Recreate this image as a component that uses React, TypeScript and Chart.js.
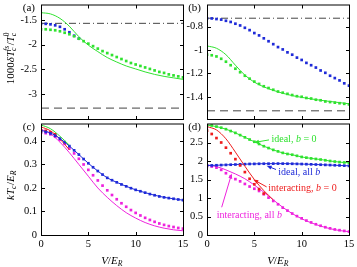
import React, { useEffect, useRef } from "react";
import { Chart, registerables } from "chart.js";
Chart.register(...registerables);

const W = 357;
const H = 267;
const FONT = '"Liberation Serif", "Times New Roman", serif';

const GREEN = "#2fe22f";
const BLUE = "#1e2ad8";
const RED = "#ee1c1c";
const MAGENTA = "#ee22dd";
const REFC = "#444444";

// ---------- data ----------
const V_DOTS = [0, 0.5, 1, 1.5, 2, 2.5, 3, 3.5, 4, 4.5, 5, 5.5, 6, 6.5, 7, 7.5, 8, 8.5, 9, 9.5, 10, 10.5, 11, 11.5, 12, 12.5, 13, 13.5, 14, 14.5, 15];
const V_LINE = [0, 1, 2, 3, 4, 5, 6, 7, 8, 9, 10, 11, 12, 13, 14, 15];
const X_TICKS = [0, 5, 10, 15];

// (a)
const A_Y_TICKS = [-3, -2.5, -2, -1.5];
const A_GREEN_DOTS = [-1.69, -1.69, -1.7, -1.71, -1.73, -1.76, -1.79, -1.83, -1.88, -1.93, -1.98, -2.03, -2.08, -2.13, -2.17, -2.21, -2.25, -2.29, -2.33, -2.37, -2.4, -2.43, -2.46, -2.49, -2.52, -2.55, -2.57, -2.6, -2.62, -2.64, -2.66];
const A_BLUE_DOTS = [-1.58, -1.58, -1.59, -1.61, -1.64, -1.69, -1.75, -1.82, -1.88];
const A_GREEN_LINE = [-1.355, -1.38, -1.47, -1.63, -1.84, -2.01, -2.14, -2.26, -2.35, -2.43, -2.49, -2.55, -2.6, -2.64, -2.67, -2.7];
const A_DASHDOT = -1.57;
const A_DASHED = -3.28;

// (b)
const B_Y_TICKS = [-1.4, -1.2, -1, -0.8];
const B_BLUE_DOTS = [-0.73, -0.73, -0.735, -0.74, -0.75, -0.76, -0.775, -0.79, -0.81, -0.83, -0.855, -0.875, -0.9, -0.925, -0.95, -0.975, -0.995, -1.02, -1.04, -1.065, -1.085, -1.11, -1.13, -1.15, -1.175, -1.195, -1.22, -1.24, -1.26, -1.285, -1.305];
const B_GREEN_DOTS = [-1.04, -1.045, -1.055, -1.075, -1.1, -1.13, -1.16, -1.19, -1.22, -1.245, -1.27, -1.29, -1.31, -1.325, -1.34, -1.355, -1.365, -1.375, -1.385, -1.395, -1.4, -1.41, -1.415, -1.425, -1.43, -1.44, -1.445, -1.45, -1.455, -1.46, -1.465];
const B_GREEN_LINE = [-0.965, -0.985, -1.04, -1.13, -1.215, -1.275, -1.315, -1.345, -1.37, -1.39, -1.405, -1.418, -1.43, -1.44, -1.45, -1.46];
const B_DASHDOT = -0.728;
const B_DASHED = -1.52;

// (c)
const C_Y_TICKS = [0, 0.1, 0.2, 0.3, 0.4];
const C_BLUE_DOTS = [0.44, 0.438, 0.432, 0.422, 0.41, 0.395, 0.378, 0.36, 0.342, 0.323, 0.305, 0.288, 0.272, 0.257, 0.243, 0.233, 0.224, 0.215, 0.207, 0.199, 0.192, 0.186, 0.18, 0.174, 0.169, 0.164, 0.16, 0.157, 0.154, 0.151, 0.148];
const C_BLUE_LINE = [0.445, 0.434, 0.41, 0.378, 0.342, 0.305, 0.272, 0.243, 0.224, 0.207, 0.192, 0.18, 0.169, 0.16, 0.154, 0.148];
const C_GREEN_LINE = [0.468, 0.452, 0.42, 0.382];
const C_RED_LINE = [0.46, 0.443, 0.408, 0.362];
const C_RED_DOTS = [0.445, 0.443, 0.437, 0.428];
const C_MAGENTA_LINE = [0.45, 0.43, 0.395, 0.35, 0.3, 0.25, 0.2, 0.16, 0.125, 0.095, 0.072, 0.053, 0.039, 0.029, 0.022, 0.018];
const C_MAGENTA_DOTS = [0.435, 0.433, 0.428, 0.418, 0.405, 0.388, 0.368, 0.347, 0.324, 0.3, 0.277, 0.254, 0.232, 0.21, 0.19, 0.17, 0.152, 0.135, 0.12, 0.106, 0.094, 0.083, 0.073, 0.064, 0.056, 0.049, 0.043, 0.038, 0.034, 0.03, 0.027];

// (d)
const D_Y_TICKS = [0, 0.5, 1, 1.5, 2, 2.5];
const D_GREEN_DOTS = [2.97, 2.96, 2.93, 2.9, 2.86, 2.81, 2.76, 2.7, 2.64, 2.58, 2.52, 2.46, 2.4, 2.35, 2.3, 2.26, 2.22, 2.19, 2.17, 2.14, 2.11, 2.09, 2.07, 2.055, 2.04, 2.02, 2.0, 1.985, 1.97, 1.96, 1.95];
const D_GREEN_LINE = [2.97, 2.93, 2.86, 2.76, 2.64, 2.52, 2.4, 2.3, 2.22, 2.17, 2.11, 2.07, 2.04, 2.0, 1.97, 1.95];
const D_BLUE_DOTS = [1.88, 1.88, 1.885, 1.89, 1.895, 1.9, 1.905, 1.91, 1.915, 1.92, 1.922, 1.925, 1.927, 1.928, 1.929, 1.93, 1.929, 1.927, 1.925, 1.922, 1.918, 1.914, 1.91, 1.905, 1.9, 1.895, 1.89, 1.885, 1.88, 1.875, 1.87];
const D_BLUE_LINE = [1.88, 1.885, 1.895, 1.905, 1.915, 1.922, 1.927, 1.929, 1.929, 1.925, 1.918, 1.91, 1.9, 1.89, 1.88, 1.87];
const D_RED_LINE = [2.93, 2.84, 2.6, 2.24, 1.86, 1.5, 1.2, 0.95];
const D_RED_DOTS = [2.82, 2.73, 2.62, 2.5, 2.36, 2.21, 2.05, 1.88, 1.7, 1.52, 1.37, 1.24, 1.12];
const D_MAGENTA_LINE = [1.89, 1.85, 1.76, 1.65, 1.52, 1.35, 1.16, 0.95, 0.75, 0.58, 0.44, 0.33, 0.24, 0.17, 0.12, 0.09];
const D_MAGENTA_DOTS = [1.86, 1.85, 1.82, 1.76, 1.67, 1.58, 1.51, 1.45, 1.38, 1.31, 1.25, 1.19, 1.1, 1.01, 0.92, 0.83, 0.74, 0.66, 0.58, 0.51, 0.45, 0.39, 0.34, 0.29, 0.25, 0.21, 0.18, 0.15, 0.13, 0.11, 0.09];

// ---------- helpers ----------
type Seg = { t: string; it?: boolean; sub?: string; sup?: string; subIt?: boolean; supIt?: boolean };

const pts = (xs: number[], ys: number[]) => ys.map((y, i) => ({ x: xs[i], y }));
const lineDs = (xs: number[], ys: number[], color: string) => ({
  data: pts(xs, ys), showLine: true, borderColor: color, backgroundColor: color, borderWidth: 1,
  pointRadius: 0, cubicInterpolationMode: "monotone", fill: false,
});
const dotDs = (xs: number[], ys: number[], color: string) => ({
  data: pts(xs, ys), showLine: false, pointStyle: "rect", pointRadius: 1.9,
  pointBackgroundColor: color, pointBorderWidth: 0, borderColor: color, backgroundColor: color,
});
const refDs = (y: number, dash: number[]) => ({
  data: [{ x: 0, y }, { x: 15, y }], showLine: true, borderColor: REFC, borderWidth: 1,
  borderDash: dash, pointRadius: 0, fill: false,
});

function richWidth(ctx: CanvasRenderingContext2D, segs: Seg[], size: number) {
  let w = 0;
  for (const s of segs) {
    ctx.font = `${s.it ? "italic " : ""}${size}px ${FONT}`;
    w += ctx.measureText(s.t).width;
    if (s.sub || s.sup) {
      const ss = size * 0.7;
      ctx.font = `${s.subIt ? "italic " : ""}${ss}px ${FONT}`;
      const a = s.sub ? ctx.measureText(s.sub).width : 0;
      ctx.font = `${s.supIt ? "italic " : ""}${ss}px ${FONT}`;
      const b = s.sup ? ctx.measureText(s.sup).width : 0;
      w += Math.max(a, b) + 0.5;
    }
  }
  return w;
}

function drawRich(ctx: CanvasRenderingContext2D, segs: Seg[], x: number, cy: number, size: number, color: string, align: "center" | "left") {
  const w = richWidth(ctx, segs, size);
  let cx = align === "center" ? x - w / 2 : x;
  const base = cy + size * 0.32;
  ctx.fillStyle = color;
  ctx.textAlign = "left";
  ctx.textBaseline = "alphabetic";
  for (const s of segs) {
    ctx.font = `${s.it ? "italic " : ""}${size}px ${FONT}`;
    ctx.fillText(s.t, cx, base);
    cx += ctx.measureText(s.t).width;
    if (s.sub || s.sup) {
      const ss = size * 0.7;
      let a = 0, b = 0;
      if (s.sub) {
        ctx.font = `${s.subIt ? "italic " : ""}${ss}px ${FONT}`;
        ctx.fillText(s.sub, cx, base + size * 0.22);
        a = ctx.measureText(s.sub).width;
      }
      if (s.sup) {
        ctx.font = `${s.supIt ? "italic " : ""}${ss}px ${FONT}`;
        ctx.fillText(s.sup, cx, base - size * 0.42);
        b = ctx.measureText(s.sup).width;
      }
      cx += Math.max(a, b) + 0.5;
    }
  }
}

function arrow(ctx: CanvasRenderingContext2D, x0: number, y0: number, x1: number, y1: number, color: string) {
  const ang = Math.atan2(y1 - y0, x1 - x0);
  const L = 5, Wd = 2;
  ctx.strokeStyle = color;
  ctx.fillStyle = color;
  ctx.lineWidth = 1;
  ctx.beginPath();
  ctx.moveTo(x0, y0);
  ctx.lineTo(x1 - Math.cos(ang) * L * 0.8, y1 - Math.sin(ang) * L * 0.8);
  ctx.stroke();
  ctx.beginPath();
  ctx.moveTo(x1, y1);
  ctx.lineTo(x1 - Math.cos(ang) * L - Math.sin(ang) * Wd, y1 - Math.sin(ang) * L + Math.cos(ang) * Wd);
  ctx.lineTo(x1 - Math.cos(ang) * L + Math.sin(ang) * Wd, y1 - Math.sin(ang) * L - Math.cos(ang) * Wd);
  ctx.closePath();
  ctx.fill();
}

type Note = { segs: Seg[]; color: string; tx: number; ty: number; a: [number, number, number, number] };
type Panel = {
  key: string; label: string; left: number; right: number; top: number; bottom: number;
  ymin: number; ymax: number; yticks: number[]; showX: boolean; datasets: any[];
  yTitle?: { segs: Seg[]; x: number; y: number };
  xTitle?: { segs: Seg[]; y: number };
  notes?: Note[];
};

const TITLE_A: Seg[] = [
  { t: "1000" }, { t: "δ", it: true },
  { t: "T", it: true, sub: "c", subIt: true, sup: "fs", supIt: true },
  { t: "/" }, { t: "T", it: true, sub: "c", subIt: true, sup: "0" },
];
const TITLE_C: Seg[] = [{ t: "k", it: true }, { t: "T", it: true, sub: "c", subIt: true }, { t: "/" }, { t: "E", it: true, sub: "R", subIt: true }];
const TITLE_X: Seg[] = [{ t: "V", it: true }, { t: "/" }, { t: "E", it: true, sub: "R", subIt: true }];

const PANELS: Panel[] = [
  {
    key: "a", label: "(a)", left: 41, right: 183, top: 5, bottom: 119, ymin: -3.5, ymax: -1.2, yticks: A_Y_TICKS, showX: false,
    datasets: [
      dotDs(V_DOTS, A_GREEN_DOTS, GREEN),
      dotDs(V_DOTS.slice(0, A_BLUE_DOTS.length), A_BLUE_DOTS, BLUE),
      lineDs(V_LINE, A_GREEN_LINE, GREEN),
      refDs(A_DASHDOT, [7, 3, 1, 3]),
      refDs(A_DASHED, [8, 5]),
    ],
    yTitle: { segs: TITLE_A, x: 10, y: 58 },
  },
  {
    key: "b", label: "(b)", left: 207, right: 349, top: 5, bottom: 119, ymin: -1.59, ymax: -0.615, yticks: B_Y_TICKS, showX: false,
    datasets: [
      dotDs(V_DOTS, B_BLUE_DOTS, BLUE),
      dotDs(V_DOTS, B_GREEN_DOTS, GREEN),
      lineDs(V_LINE, B_GREEN_LINE, GREEN),
      refDs(B_DASHDOT, [7, 3, 1, 3]),
      refDs(B_DASHED, [8, 5]),
    ],
  },
  {
    key: "c", label: "(c)", left: 41, right: 183, top: 124, bottom: 235, ymin: 0, ymax: 0.472, yticks: C_Y_TICKS, showX: true,
    datasets: [
      lineDs(V_LINE.slice(0, C_GREEN_LINE.length), C_GREEN_LINE, GREEN),
      dotDs(V_DOTS, C_BLUE_DOTS, BLUE),
      lineDs(V_LINE, C_BLUE_LINE, BLUE),
      dotDs(V_DOTS.slice(0, C_RED_DOTS.length), C_RED_DOTS, RED),
      lineDs(V_LINE.slice(0, C_RED_LINE.length), C_RED_LINE, RED),
      dotDs(V_DOTS, C_MAGENTA_DOTS, MAGENTA),
      lineDs(V_LINE, C_MAGENTA_LINE, MAGENTA),
    ],
    yTitle: { segs: TITLE_C, x: 10, y: 185 },
    xTitle: { segs: TITLE_X, y: 260 },
  },
  {
    key: "d", label: "(d)", left: 207, right: 349, top: 124, bottom: 235, ymin: 0, ymax: 3, yticks: D_Y_TICKS, showX: true,
    datasets: [
      dotDs(V_DOTS.slice(0, D_RED_DOTS.length), D_RED_DOTS, RED),
      lineDs(V_LINE.slice(0, D_RED_LINE.length), D_RED_LINE, RED),
      dotDs(V_DOTS, D_GREEN_DOTS, GREEN),
      lineDs(V_LINE, D_GREEN_LINE, GREEN),
      dotDs(V_DOTS, D_BLUE_DOTS, BLUE),
      lineDs(V_LINE, D_BLUE_LINE, BLUE),
      dotDs(V_DOTS, D_MAGENTA_DOTS, MAGENTA),
      lineDs(V_LINE, D_MAGENTA_LINE, MAGENTA),
    ],
    xTitle: { segs: TITLE_X, y: 260 },
    notes: [
      { segs: [{ t: "ideal, " }, { t: "b", it: true }, { t: " = 0" }], color: GREEN, tx: 6.81, ty: 2.61, a: [6.55, 2.57, 4.96, 2.5] },
      { segs: [{ t: "ideal, all " }, { t: "b", it: true }], color: BLUE, tx: 7.53, ty: 1.72, a: [7.29, 1.77, 6.3, 1.87] },
      { segs: [{ t: "interacting, " }, { t: "b", it: true }, { t: " = 0" }], color: RED, tx: 6.48, ty: 1.27, a: [6.3, 1.3, 4.89, 1.5] },
      { segs: [{ t: "interacting, all " }, { t: "b", it: true }], color: MAGENTA, tx: 1.02, ty: 0.55, a: [1.55, 0.75, 2.61, 1.66] },
    ],
  },
];

function makeDecor(p: Panel) {
  return {
    id: "decor",
    afterDraw(chart: any) {
      const ctx: CanvasRenderingContext2D = chart.ctx;
      const { left, right, top, bottom } = chart.chartArea;
      const xs = chart.scales.x;
      const ys = chart.scales.y;
      ctx.save();
      ctx.strokeStyle = "#000";
      ctx.lineWidth = 1;
      ctx.setLineDash([]);
      ctx.beginPath();
      ctx.moveTo(left + 0.5, top);
      ctx.lineTo(left + 0.5, bottom + 1);
      ctx.moveTo(left, bottom + 0.5);
      ctx.lineTo(right + 1, bottom + 0.5);
      ctx.moveTo(right + 0.5, bottom + 1);
      ctx.lineTo(right + 0.5, top);
      ctx.stroke();
      ctx.beginPath();
      ctx.moveTo(left, top);
      ctx.lineTo(right + 1, top);
      ctx.stroke();
      // inward ticks
      ctx.beginPath();
      for (const v of X_TICKS) {
        const px = Math.round(xs.getPixelForValue(v)) + 0.5;
        if (px <= left + 1 || px >= right) continue;
        ctx.moveTo(px, bottom + 0.5);
        ctx.lineTo(px, bottom - 3);
        ctx.moveTo(px, top);
        ctx.lineTo(px, top + 3.5);
      }
      for (const v of p.yticks) {
        const py = Math.round(ys.getPixelForValue(v)) + 0.5;
        if (py <= top + 1 || py >= bottom) continue;
        ctx.moveTo(left + 0.5, py);
        ctx.lineTo(left + 4, py);
        ctx.moveTo(right + 0.5, py);
        ctx.lineTo(right - 3, py);
      }
      ctx.stroke();
      // panel label
      ctx.font = `11px ${FONT}`;
      ctx.fillStyle = "#000";
      ctx.textAlign = "right";
      ctx.textBaseline = "middle";
      ctx.fillText(p.label, left - 6, top + 3.5);
      // titles
      if (p.yTitle) {
        ctx.save();
        ctx.translate(p.yTitle.x, p.yTitle.y);
        ctx.rotate(-Math.PI / 2);
        drawRich(ctx, p.yTitle.segs, 0, 0, 11, "#000", "center");
        ctx.restore();
      }
      if (p.xTitle) {
        drawRich(ctx, p.xTitle.segs, (left + right) / 2, p.xTitle.y, 11, "#000", "center");
      }
      if (p.notes) {
        for (const n of p.notes) {
          arrow(ctx, xs.getPixelForValue(n.a[0]), ys.getPixelForValue(n.a[1]), xs.getPixelForValue(n.a[2]), ys.getPixelForValue(n.a[3]), n.color);
          drawRich(ctx, n.segs, xs.getPixelForValue(n.tx), ys.getPixelForValue(n.ty), 10, n.color, "left");
        }
      }
      ctx.restore();
    },
  };
}

function buildConfig(p: Panel): any {
  return {
    type: "scatter",
    data: { datasets: p.datasets },
    options: {
      animation: false,
      responsive: false,
      devicePixelRatio: 1,
      events: [],
      layout: {
        autoPadding: false,
        padding: { left: 0, top: p.top, right: W - p.right, bottom: p.showX ? 0 : H - p.bottom },
      },
      plugins: { legend: { display: false }, tooltip: { enabled: false }, title: { display: false } },
      scales: {
        x: {
          type: "linear", min: 0, max: 15, position: "bottom",
          grid: { display: false, drawTicks: false },
          border: { display: false },
          ticks: {
            display: p.showX, padding: 3, maxRotation: 0, minRotation: 0, autoSkip: false,
            color: "#000", font: { family: FONT, size: 10.5 },
            callback: (v: number) => String(v),
          },
          afterBuildTicks: (s: any) => { s.ticks = X_TICKS.map((v) => ({ value: v })); },
          afterFit: (s: any) => {
            s.height = p.showX ? H - p.bottom : 0;
            s.paddingLeft = 0; s.paddingRight = 0; s.paddingTop = 0; s.paddingBottom = 0;
          },
        },
        y: {
          type: "linear", min: p.ymin, max: p.ymax, position: "left",
          grid: { display: false, drawTicks: false },
          border: { display: false },
          ticks: {
            padding: 4, autoSkip: false, color: "#000", font: { family: FONT, size: 10.5 },
            callback: (v: number) => String(v),
          },
          afterBuildTicks: (s: any) => { s.ticks = p.yticks.map((v) => ({ value: v })); },
          afterFit: (s: any) => {
            s.width = p.left;
            s.paddingLeft = 0; s.paddingRight = 0; s.paddingTop = 0; s.paddingBottom = 0;
          },
        },
      },
    },
    plugins: [makeDecor(p)],
  };
}

function PanelChart({ p }: { p: Panel }) {
  const ref = useRef<HTMLCanvasElement>(null);
  useEffect(() => {
    const chart = new Chart(ref.current as HTMLCanvasElement, buildConfig(p));
    return () => chart.destroy();
  }, []);
  return <canvas ref={ref} width={W} height={H} style={{ position: "absolute", left: 0, top: 0, width: W, height: H }} />;
}

export default function App() {
  return (
    <div style={{ position: "fixed", left: 0, top: 0, width: W, height: H, background: "#fff", overflow: "hidden" }}>
      {PANELS.map((p) => (
        <PanelChart key={p.key} p={p} />
      ))}
    </div>
  );
}
